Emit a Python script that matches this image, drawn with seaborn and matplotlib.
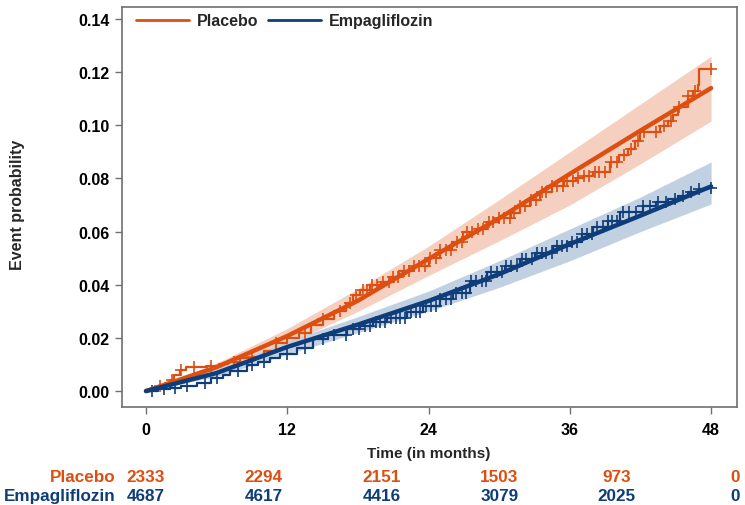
import matplotlib
matplotlib.use("Agg")
import matplotlib.pyplot as plt
import matplotlib.transforms as mtransforms
from matplotlib.lines import Line2D
import numpy as np
import seaborn as sns

sns.set_style("white")
plt.rcParams["font.family"] = ["Liberation Sans", "DejaVu Sans"]
plt.rcParams["font.weight"] = "bold"

ORANGE = "#dd4f10"
BLUE = "#0e3d7a"
BAND_ORANGE = "#f5cfc0"
BAND_BLUE = "#c2d1e2"

# fitted curve and confidence band (read every 6 months)
fit_time = [0, 6, 12, 18, 24, 30, 36, 42, 48]
placebo_fit = [0.0, 0.009, 0.0207, 0.034, 0.0497, 0.065, 0.0817, 0.098, 0.114]
placebo_lo = [0.0, 0.0075, 0.0177, 0.030, 0.0435, 0.0565, 0.070, 0.0855, 0.1016]
placebo_hi = [0.0, 0.0105, 0.0235, 0.0385, 0.0545, 0.072, 0.090, 0.108, 0.126]
empa_fit = [0.0, 0.0068, 0.0166, 0.025, 0.0339, 0.044, 0.0553, 0.066, 0.077]
empa_lo = [0.0, 0.0055, 0.0139, 0.022, 0.030, 0.039, 0.049, 0.060, 0.0704]
empa_hi = [0.0, 0.0085, 0.0188, 0.028, 0.0376, 0.049, 0.061, 0.073, 0.0862]

# Kaplan-Meier type step curves
placebo_km_t = [0, 0.6, 1.0, 1.6, 2.0, 2.4, 2.9, 3.4, 5.2, 6.2, 7.0, 8.0, 9.0, 10.0,
                11.0, 12.0, 13.0, 14.0, 15.0, 16.0, 17.0, 17.6, 18.2, 19.0, 20.0,
                20.7, 21.5, 22.7, 24.0, 25.0, 26.0, 26.9, 28.0, 29.0, 30.0, 31.0,
                31.8, 32.6, 33.5, 34.5, 35.5, 36.5, 37.2, 38.0, 39.4, 40.2, 40.9,
                41.5, 42.0, 43.7, 44.3, 44.8, 45.2, 46.0, 46.5, 46.9, 47.0, 48.0]
placebo_km_y = [0, 0.001, 0.002, 0.003, 0.004, 0.006, 0.008, 0.009, 0.0095, 0.010,
                0.011, 0.0125, 0.013, 0.015, 0.018, 0.020, 0.022, 0.025, 0.027,
                0.030, 0.033, 0.036, 0.038, 0.040, 0.041, 0.043, 0.045, 0.047,
                0.050, 0.053, 0.056, 0.060, 0.061, 0.0635, 0.065, 0.067, 0.0697,
                0.072, 0.075, 0.077, 0.079, 0.080, 0.081, 0.0825, 0.086, 0.089,
                0.091, 0.094, 0.0975, 0.0997, 0.1016, 0.104, 0.107, 0.111, 0.113,
                0.115, 0.121, 0.121]
empa_km_t = [0, 1.0, 2.0, 3.0, 4.3, 5.5, 6.5, 7.1, 8.6, 9.5, 10.5, 11.4, 12.8, 14.2,
             15.5, 17.1, 18.2, 19.3, 20.5, 22.2, 23.5, 25.0, 26.1, 27.5, 29.0, 30.5,
             31.8, 33.0, 34.6, 36.0, 37.0, 38.0, 39.2, 40.3, 42.2, 43.3, 44.3, 45.2,
             46.0, 47.0, 47.7, 48.0]
empa_km_y = [0, 0.0006, 0.0012, 0.002, 0.0032, 0.0048, 0.0062, 0.0075, 0.0098, 0.011,
             0.0125, 0.014, 0.0162, 0.0196, 0.021, 0.0233, 0.0245, 0.026, 0.0275,
             0.0297, 0.032, 0.0345, 0.037, 0.0415, 0.0448, 0.047, 0.0497, 0.052,
             0.0546, 0.056, 0.059, 0.0617, 0.064, 0.0674, 0.0696, 0.071, 0.0722,
             0.0735, 0.0749, 0.076, 0.0765, 0.0765]

# censoring times
placebo_censor = [1.2, 2.2, 3.0, 4.1, 5.5, 7.5, 9.0, 11.0, 13.5, 15.0, 16.5, 17.3,
                  17.8, 18.4, 18.8, 19.2, 19.6, 20.1, 20.6, 21.0, 21.4, 21.9, 22.3,
                  22.8, 23.2, 23.7, 24.1, 24.6, 25.0, 25.5, 25.9, 26.4, 26.8, 27.3,
                  27.7, 28.2, 28.6, 29.1, 29.5, 30.0, 30.4, 30.9, 31.3, 31.8, 32.2,
                  32.7, 33.1, 33.6, 34.0, 34.5, 34.9, 35.4, 35.8, 36.3, 36.7, 37.2,
                  37.6, 38.1, 38.5, 39.0, 39.5, 40.0, 40.6, 41.2, 41.8, 42.3, 43.3,
                  44.0, 44.6, 45.3, 46.0, 46.6, 48.0]
empa_censor = [0.5, 1.5, 2.5, 3.5, 5.0, 6.0, 7.8, 9.0, 10.0, 12.0, 13.5, 15.0, 16.0,
               17.0, 17.6, 18.1, 18.6, 19.0, 19.5, 19.9, 20.3, 20.8, 21.2, 21.6,
               22.0, 22.5, 22.9, 23.3, 23.8, 24.2, 24.6, 25.0, 25.5, 25.9, 26.3,
               26.8, 27.2, 27.6, 28.0, 28.5, 28.9, 29.3, 29.8, 30.2, 30.6, 31.0,
               31.5, 31.9, 32.3, 32.8, 33.2, 33.6, 34.0, 34.5, 34.9, 35.3, 35.8,
               36.2, 36.6, 37.0, 37.5, 37.9, 38.3, 38.8, 39.2, 39.6, 40.0, 40.5,
               41.0, 41.6, 42.2, 42.8, 43.5, 44.2, 44.9, 45.6, 46.3, 47.0, 48.0]

# number at risk table
risk_time = [0, 10, 20, 30, 40, 50]
placebo_risk = [2333, 2294, 2151, 1503, 973, 0]
empa_risk = [4687, 4617, 4416, 3079, 2025, 0]


def step_value(times, values, t):
    idx = np.searchsorted(times, t, side="right") - 1
    return np.asarray(values)[idx]


fig = plt.figure(figsize=(7.45, 5.06), dpi=100)
ax = fig.add_axes([122 / 745, 1 - 408 / 506, 615 / 745, 400 / 506])

# confidence bands
ax.fill_between(fit_time, placebo_lo, placebo_hi, color=BAND_ORANGE, lw=0)
ax.fill_between(fit_time, empa_lo, empa_hi, color=BAND_BLUE, lw=0)

# step curves
for t, y, c in [(placebo_km_t, placebo_km_y, ORANGE), (empa_km_t, empa_km_y, BLUE)]:
    sns.lineplot(x=t, y=y, ax=ax, color=c, lw=1.6, drawstyle="steps-post",
                 estimator=None, sort=False)

# censor marks
for times, kt, ky, c in [(placebo_censor, placebo_km_t, placebo_km_y, ORANGE),
                         (empa_censor, empa_km_t, empa_km_y, BLUE)]:
    cy = step_value(kt, ky, np.array(times))
    ax.plot(times, cy, ls="none", marker="+", ms=9, mew=1.2, color=c)

# fitted curves
sns.lineplot(x=fit_time, y=placebo_fit, ax=ax, color=ORANGE, lw=3.2, estimator=None)
sns.lineplot(x=fit_time, y=empa_fit, ax=ax, color=BLUE, lw=3.2, estimator=None)

ax.set_xlim(-2.04, 50.2)
ax.set_ylim(-0.006, 0.1445)
ax.set_xticks([0, 12, 24, 36, 48])
yt = np.arange(0, 0.141, 0.02)
ax.set_yticks(yt)
ax.set_yticklabels([f"{v:.2f}" for v in yt])
for s in ax.spines.values():
    s.set_color("#707070")
    s.set_linewidth(1.2)
ax.tick_params(axis="both", which="major", direction="out", length=5, width=1,
               color="#707070", labelsize=11.5, labelcolor="black",
               bottom=True, left=True)
ax.tick_params(axis="x", pad=6)
ax.tick_params(axis="y", pad=4)
for lab in ax.get_xticklabels() + ax.get_yticklabels():
    lab.set_fontweight("bold")

ax.set_xlabel("")
ax.set_ylabel("")
fig.text(18 / 745, 1 - 205 / 506, "Event probability", rotation=90, ha="center",
         va="center", fontsize=11.5, fontweight="bold")

# legend
handles = [Line2D([], [], color=ORANGE, lw=2), Line2D([], [], color=BLUE, lw=2)]
ax.legend(handles, ["Placebo", "Empagliflozin"], loc="upper left", ncol=2,
          frameon=False, bbox_to_anchor=(0.0, 1.02), handlelength=3.3,
          columnspacing=0.6, handletextpad=0.5,
          prop={"weight": "bold", "size": 11.5})

# x-axis title and at-risk table
trans = mtransforms.blended_transform_factory(ax.transData, ax.transAxes)
ax.text(24, -0.115, "Time (in months)", transform=trans, ha="center", va="center",
        fontsize=11, fontweight="bold")
ax.text(-2.6, -0.175, "Placebo", transform=trans, ha="right", va="center",
        fontsize=12.3, fontweight="bold", color=ORANGE)
ax.text(-2.6, -0.2225, "Empagliflozin", transform=trans, ha="right", va="center",
        fontsize=12.3, fontweight="bold", color=BLUE)
for t, p, e in zip(risk_time, placebo_risk, empa_risk):
    ax.text(t, -0.175, str(p), transform=trans, ha="center", va="center",
            fontsize=12.3, fontweight="bold", color=ORANGE)
    ax.text(t, -0.2225, str(e), transform=trans, ha="center", va="center",
            fontsize=12.3, fontweight="bold", color=BLUE)

fig.savefig("out.png", dpi=100)
